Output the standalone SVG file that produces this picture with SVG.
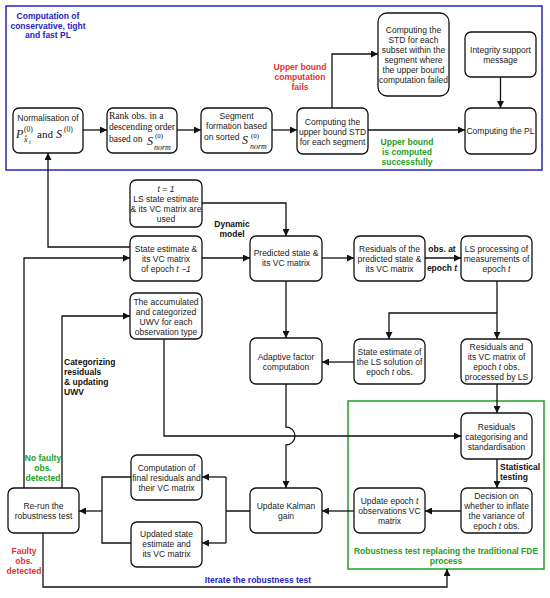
<svg xmlns="http://www.w3.org/2000/svg" width="550" height="598" viewBox="0 0 550 598">
<defs>
<marker id="ah" viewBox="0 0 8 8" refX="8" refY="4" markerWidth="7" markerHeight="7" markerUnits="userSpaceOnUse" orient="auto"><path d="M0,0 L8,4 L0,8 z" fill="#111"/></marker>
<style>
.box{fill:#fff;stroke:#111;stroke-width:1.3}
.t{font-family:"Liberation Sans",Arial,sans-serif;font-size:8.5px;fill:#222;text-anchor:middle}
.m{font-family:"Liberation Serif","Times New Roman",serif;fill:#111}
.lb{font-family:"Liberation Sans",Arial,sans-serif;font-size:8.5px;font-weight:bold;text-anchor:middle}
.c{fill:none;stroke:#111;stroke-width:1.3}
.a{marker-end:url(#ah)}
</style>
</defs>
<rect x="0" y="0" width="550" height="598" fill="#fff"/>
<rect x="6" y="6" width="536" height="164" fill="none" stroke="#2222cc" stroke-width="1.5"/>
<rect x="348" y="401" width="196" height="168" fill="none" stroke="#22a022" stroke-width="1.5"/>

<g id="connectors">
<path class="c a" d="M83 130 H107"/>
<path class="c a" d="M177 130 H201"/>
<path class="c a" d="M272 130 H297"/>
<path class="c a" d="M368 130 H465"/>
<path class="c a" d="M332 108 V54 H378"/>
<path class="c a" d="M500.5 77 V108"/>
<path class="c a" d="M130 247 H48 V153"/>
<path class="c a" d="M202 203 H286 V236"/>
<path class="c a" d="M202 258 H250"/>
<path class="c a" d="M322 258 H354"/>
<path class="c a" d="M425 258 H461"/>
<path class="c a" d="M497 281 V339"/>
<path class="c a" d="M497 313 H389 V339"/>
<path class="c a" d="M354 362 H322"/>
<path class="c a" d="M286 281 V338"/>
<path class="c a" d="M286 384 V427 A9 9 0 0 1 286 445 V488"/>
<path class="c a" d="M164 339 V436 H461"/>
<path class="c a" d="M497 384 V413"/>
<path class="c a" d="M497 459 V488"/>
<path class="c a" d="M461 511 H425"/>
<path class="c a" d="M354 511 H322"/>
<path class="c" d="M250 511 H226 M226 477 V543"/>
<path class="c a" d="M226 477 H202"/>
<path class="c a" d="M226 543 H202"/>
<path class="c" d="M131 477 H102 V543 H131"/>
<path class="c a" d="M102 511 H79"/>
<path class="c a" d="M24 488 V258 H130"/>
<path class="c a" d="M62 488 V316 H130"/>
<path class="c a" d="M43 533 V587 H447 V569"/>
</g>

<g id="labels">
<text class="lb" fill="#2222cc" x="48" y="19">Computation of</text>
<text class="lb" fill="#2222cc" x="48" y="29">conservative, tight</text>
<text class="lb" fill="#2222cc" x="48" y="38">and fast PL</text>
<text class="lb" fill="#e83030" x="300" y="70">Upper bound</text>
<text class="lb" fill="#e83030" x="300" y="80">computation</text>
<text class="lb" fill="#e83030" x="300" y="90">fails</text>
<text class="lb" fill="#22a022" x="407" y="145">Upper bound</text>
<text class="lb" fill="#22a022" x="407" y="155">is computed</text>
<text class="lb" fill="#22a022" x="407" y="165">successfully</text>
<text class="lb" fill="#111" x="232" y="227">Dynamic</text>
<text class="lb" fill="#111" x="232" y="237">model</text>
<text class="lb" fill="#111" x="442" y="252">obs. at</text>
<text class="lb" fill="#111" x="442" y="271">epoch <tspan font-style="italic">t</tspan></text>
<text class="lb" fill="#111" x="500" y="470" style="text-anchor:start">Statistical</text>
<text class="lb" fill="#111" x="500" y="480" style="text-anchor:start">testing</text>
<text class="lb" fill="#111" x="64" y="365" style="text-anchor:start">Categorizing</text>
<text class="lb" fill="#111" x="64" y="375" style="text-anchor:start">residuals</text>
<text class="lb" fill="#111" x="64" y="385" style="text-anchor:start">&amp; updating</text>
<text class="lb" fill="#111" x="64" y="395" style="text-anchor:start">UWV</text>
<text class="lb" fill="#22a022" x="43" y="461">No faulty</text>
<text class="lb" fill="#22a022" x="43" y="471">obs.</text>
<text class="lb" fill="#22a022" x="43" y="481">detected</text>
<text class="lb" fill="#e83030" x="24" y="554">Faulty</text>
<text class="lb" fill="#e83030" x="24" y="564">obs.</text>
<text class="lb" fill="#e83030" x="24" y="574">detected</text>
<text class="lb" fill="#2222cc" x="258" y="583">Iterate the robustness test</text>
<text class="lb" fill="#22a022" x="446" y="554">Robustness test replacing the traditional FDE</text>
<text class="lb" fill="#22a022" x="446" y="564">process</text>
</g>

<g id="n-normalisation">
<rect class="box" x="13" y="108" width="70" height="45" rx="6"/>
<text class="t" x="48" y="121">Normalisation of</text>
<text class="m" x="16" y="138" font-size="12" font-style="italic">P</text>
<text class="m" x="24" y="132" font-size="7.5">(0)</text>
<text class="m" x="24" y="142" font-size="8" font-style="italic">x̂</text>
<text class="m" x="29" y="144" font-size="6" font-style="italic">t</text>
<text class="m" x="37" y="138" font-size="11">and</text>
<text class="m" x="56" y="138" font-size="12" font-style="italic">S</text>
<text class="m" x="64" y="132" font-size="7.5">(0)</text>
</g>

<g id="n-rank">
<rect class="box" x="107" y="108" width="70" height="45" rx="6"/>
<text class="m" x="109" y="119" font-size="9.5">Rank obs. in a</text>
<text class="m" x="109" y="129.5" font-size="9.5" textLength="66" lengthAdjust="spacingAndGlyphs">descending order</text>
<text class="m" x="109" y="142" font-size="9.5">based on</text>
<text class="m" x="147" y="145" font-size="12" font-style="italic">S</text>
<text class="m" x="155" y="138" font-size="7">(0)</text>
<text class="m" x="154" y="150" font-size="8" font-style="italic">norm</text>
</g>

<g id="n-segment">
<rect class="box" x="201" y="108" width="71" height="45" rx="6"/>
<text class="t" x="236.5" y="119">Segment</text>
<text class="t" x="236.5" y="129">formation based</text>
<text class="t" x="204" y="140" style="text-anchor:start">on sorted</text>
<text class="m" x="242" y="144" font-size="12" font-style="italic">S</text>
<text class="m" x="251" y="137.5" font-size="7">(0)</text>
<text class="m" x="250" y="149" font-size="8" font-style="italic">norm</text>
</g>

<g id="n-upperbound">
<rect class="box" x="297" y="108" width="71" height="46" rx="6"/>
<text class="t" x="332.5" y="125">Computing the</text>
<text class="t" x="332.5" y="135">upper bound STD</text>
<text class="t" x="332.5" y="145">for each segment</text>
</g>

<g id="n-subset">
<rect class="box" x="378" y="13" width="71" height="83" rx="9"/>
<text class="t" x="413.5" y="33">Computing the</text>
<text class="t" x="413.5" y="43">STD for each</text>
<text class="t" x="413.5" y="53">subset within the</text>
<text class="t" x="413.5" y="63">segment where</text>
<text class="t" x="413.5" y="73">the upper bound</text>
<text class="t" x="413.5" y="83">computation failed</text>
</g>

<g id="n-integrity">
<rect class="box" x="465" y="32" width="71" height="45" rx="6"/>
<text class="t" x="500.5" y="53">Integrity support</text>
<text class="t" x="500.5" y="63">message</text>
</g>

<g id="n-pl">
<rect class="box" x="465" y="108" width="71" height="46" rx="6"/>
<text class="t" x="500.5" y="134">Computing the PL</text>
</g>

<g id="n-t1">
<rect class="box" x="130" y="180" width="72" height="47" rx="6"/>
<text class="t" x="166" y="192"><tspan font-style="italic">t</tspan> = <tspan font-style="italic">1</tspan></text>
<text class="t" x="166" y="202">LS state estimate</text>
<text class="t" x="166" y="212">&amp; its VC matrix are</text>
<text class="t" x="166" y="222">used</text>
</g>

<g id="n-state-prev">
<rect class="box" x="130" y="236" width="72" height="45" rx="6"/>
<text class="t" x="166" y="252">State estimate &amp;</text>
<text class="t" x="166" y="262">its VC matrix</text>
<text class="t" x="166" y="272">of epoch <tspan font-style="italic">t −1</tspan></text>
</g>

<g id="n-uwv">
<rect class="box" x="130" y="293" width="72" height="46" rx="6"/>
<text class="t" x="166" y="305">The accumulated</text>
<text class="t" x="166" y="315">and categorized</text>
<text class="t" x="166" y="325">UWV for each</text>
<text class="t" x="166" y="335">observation type</text>
</g>

<g id="n-predicted">
<rect class="box" x="250" y="236" width="72" height="45" rx="6"/>
<text class="t" x="286" y="256">Predicted state &amp;</text>
<text class="t" x="286" y="266">its VC matrix</text>
</g>

<g id="n-res-pred">
<rect class="box" x="354" y="236" width="71" height="45" rx="6"/>
<text class="t" x="389.5" y="252">Residuals of the</text>
<text class="t" x="389.5" y="262">predicted state &amp;</text>
<text class="t" x="389.5" y="272">its VC matrix</text>
</g>

<g id="n-ls">
<rect class="box" x="461" y="236" width="71" height="45" rx="6"/>
<text class="t" x="496.5" y="252">LS processing of</text>
<text class="t" x="496.5" y="262">measurements of</text>
<text class="t" x="496.5" y="272">epoch <tspan font-style="italic">t</tspan></text>
</g>

<g id="n-adaptive">
<rect class="box" x="250" y="338" width="72" height="46" rx="6"/>
<text class="t" x="286" y="360">Adaptive factor</text>
<text class="t" x="286" y="370">computation</text>
</g>

<g id="n-state-ls">
<rect class="box" x="354" y="339" width="71" height="45" rx="6"/>
<text class="t" x="389.5" y="355">State estimate of</text>
<text class="t" x="389.5" y="365">the LS solution of</text>
<text class="t" x="389.5" y="375">epoch <tspan font-style="italic">t</tspan> obs.</text>
</g>

<g id="n-res-ls">
<rect class="box" x="461" y="339" width="71" height="45" rx="6"/>
<text class="t" x="496.5" y="350">Residuals and</text>
<text class="t" x="496.5" y="360">its VC matrix of</text>
<text class="t" x="496.5" y="370">epoch <tspan font-style="italic">t</tspan> obs.</text>
<text class="t" x="496.5" y="380">processed by LS</text>
</g>

<g id="n-categorising">
<rect class="box" x="461" y="413" width="71" height="46" rx="6"/>
<text class="t" x="496.5" y="430">Residuals</text>
<text class="t" x="496.5" y="440">categorising and</text>
<text class="t" x="496.5" y="450">standardisation</text>
</g>

<g id="n-decision">
<rect class="box" x="461" y="488" width="71" height="45" rx="6"/>
<text class="t" x="496.5" y="499">Decision on</text>
<text class="t" x="496.5" y="509">whether to inflate</text>
<text class="t" x="496.5" y="519">the variance of</text>
<text class="t" x="496.5" y="529">epoch <tspan font-style="italic">t</tspan> obs.</text>
</g>

<g id="n-update-vc">
<rect class="box" x="354" y="488" width="71" height="45" rx="6"/>
<text class="t" x="389.5" y="504">Update epoch <tspan font-style="italic">t</tspan></text>
<text class="t" x="389.5" y="514">observations VC</text>
<text class="t" x="389.5" y="524">matrix</text>
</g>

<g id="n-kalman">
<rect class="box" x="250" y="488" width="72" height="45" rx="6"/>
<text class="t" x="286" y="509">Update Kalman</text>
<text class="t" x="286" y="519">gain</text>
</g>

<g id="n-final-res">
<rect class="box" x="131" y="455" width="71" height="45" rx="6"/>
<text class="t" x="166.5" y="471">Computation of</text>
<text class="t" x="166.5" y="481">final residuals and</text>
<text class="t" x="166.5" y="491">their VC matrix</text>
</g>

<g id="n-updated-state">
<rect class="box" x="131" y="522" width="71" height="45" rx="6"/>
<text class="t" x="166.5" y="537">Updated state</text>
<text class="t" x="166.5" y="547">estimate and</text>
<text class="t" x="166.5" y="557">its VC matrix</text>
</g>

<g id="n-rerun">
<rect class="box" x="8" y="488" width="71" height="45" rx="6"/>
<text class="t" x="43.5" y="509">Re-run the</text>
<text class="t" x="43.5" y="519">robustness test</text>
</g>
</svg>
